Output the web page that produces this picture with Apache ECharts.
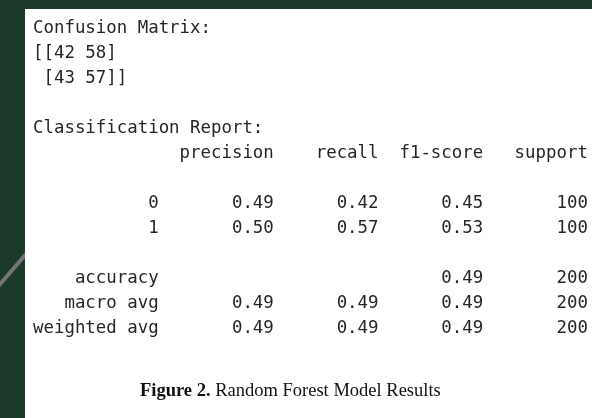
<!DOCTYPE html>
<html>
<head>
<meta charset="utf-8">
<script src="https://cdn.jsdelivr.net/npm/echarts@6/dist/echarts.min.js"></script>
<style>
  html, body { margin: 0; padding: 0; background: #1b3a2a; }
  #main { width: 592px; height: 418px; }
</style>
</head>
<body>
<div id="main"></div>
<script>
  // confusion matrix
  const confusion = [[42, 58], [43, 57]]

  // classification report
  const headers = ['precision', 'recall', 'f1-score', 'support']
  const classLabels = ['0', '1']
  const precision = [0.49, 0.50]
  const recall = [0.42, 0.57]
  const f1Score = [0.45, 0.53]
  const support = [100, 100]

  const avgLabels = ['accuracy', 'macro avg', 'weighted avg']
  const avgPrecision = [null, 0.49, 0.49]
  const avgRecall = [null, 0.49, 0.49]
  const avgF1 = [0.49, 0.49, 0.49]
  const avgSupport = [200, 200, 200]

  const caption = ['Figure 2.', ' Random Forest Model Results']

  // sklearn style fixed width formatting
  const labelWidth = Math.max(...classLabels.concat(avgLabels).map(s => s.length))
  const pad = (s, n) => ' '.repeat(Math.max(0, n - s.length)) + s
  const fmt = v => v == null ? '' : (Number.isInteger(v) && v >= 10 ? String(v) : v.toFixed(2))
  const row = (label, cells) => pad(label, labelWidth) + ' ' + cells.map(c => ' ' + pad(fmt(c), 9)).join('')

  const lines = []
  lines.push('Confusion Matrix:')
  lines.push('[[' + confusion[0].join(' ') + ']')
  lines.push(' [' + confusion[1].join(' ') + ']]')
  lines.push('')
  lines.push('Classification Report:')
  lines.push(pad('', labelWidth) + ' ' + headers.map(h => ' ' + pad(h, 9)).join(''))
  lines.push('')
  classLabels.forEach((l, i) => lines.push(row(l, [precision[i], recall[i], f1Score[i], support[i]])))
  lines.push('')
  avgLabels.forEach((l, i) => lines.push(row(l, [avgPrecision[i], avgRecall[i], avgF1[i], avgSupport[i]])))

  const chart = echarts.init(document.getElementById('main'))

  const textEls = lines.map((t, i) => ({
    type: 'text',
    left: 33,
    top: 27 + i * 25 - 7,
    z: 10,
    style: {
      text: t,
      font: '17.4px "DejaVu Sans Mono", monospace',
      fill: '#262626'
    }
  }))

  chart.setOption({
    backgroundColor: '#1b3a2a',
    graphic: [
      // the grey diagonal stroke behind the panel
      {
        type: 'line',
        z: 1,
        shape: { x1: -5, y1: 290, x2: 45, y2: 232 },
        style: { stroke: '#767676', lineWidth: 4 }
      },
      {
        type: 'rect',
        z: 2,
        shape: { x: 25, y: 9, width: 567, height: 409 },
        style: { fill: '#ffffff' }
      },
      ...textEls,
      {
        type: 'text',
        left: 140,
        top: 382,
        z: 10,
        style: {
          text: '{b|' + caption[0] + '}' + caption[1],
          font: '18.5px "Liberation Serif", "Times New Roman", serif',
          fill: '#111',
          rich: {
            b: { font: 'bold 18.5px "Liberation Serif", "Times New Roman", serif', fill: '#111' }
          }
        }
      }
    ]
  })
</script>
</body>
</html>
